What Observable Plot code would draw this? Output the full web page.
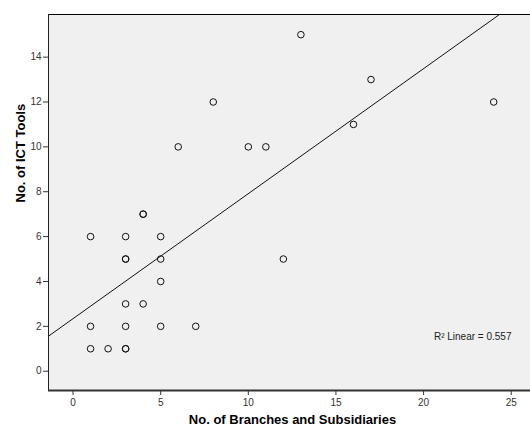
<!DOCTYPE html>
<html>
<head>
<meta charset="utf-8">
<script src="https://cdn.jsdelivr.net/npm/d3@7"></script>
<script src="https://cdn.jsdelivr.net/npm/@observablehq/plot@0.6"></script>
<style>
  html, body { margin: 0; padding: 0; background: white; }
</style>
</head>
<body>
<div id="chart"></div>
<script>
// Data
const branches = [1, 3, 5, 3, 3, 5, 5, 3, 4, 1, 3, 5, 7, 1, 2, 3, 3, 4, 4, 6, 8, 10, 11, 13, 17, 16, 24, 12];
const ictTools = [6, 6, 6, 5, 5, 5, 4, 3, 3, 2, 2, 2, 2, 1, 1, 1, 1, 7, 7, 10, 12, 10, 10, 15, 13, 11, 12, 5];
const xTicks = [0, 5, 10, 15, 20, 25];
const yTicks = [0, 2, 4, 6, 8, 10, 12, 14];
const xLabel = "No. of Branches and Subsidiaries";
const yLabel = "No. of ICT Tools";
const r2Label = "R\u00B2 Linear = 0.557";
const xDomain = [-1.4, 26.1];
const yDomain = [-0.86, 15.9];

const data = branches.map((b, i) => ({x: b, y: ictTools[i]}));

// least squares fit computed from the data
const mx = d3.mean(data, d => d.x), my = d3.mean(data, d => d.y);
const sxy = d3.sum(data, d => (d.x - mx) * (d.y - my));
const sxx = d3.sum(data, d => (d.x - mx) ** 2);
const slope = sxy / sxx, intercept = my - slope * mx;
const fit = xDomain.map(x => ({x, y: intercept + slope * x}));

const chart = Plot.plot({
  width: 530,
  height: 430,
  marginLeft: 48,
  marginRight: 0,
  marginTop: 14,
  marginBottom: 40,
  style: {fontFamily: "'Liberation Sans', Arial, sans-serif", fontSize: "10px", background: "white", color: "#222"},
  x: {domain: xDomain},
  y: {domain: yDomain},
  marks: [
    Plot.frame({fill: "#f0f0f0", stroke: "none"}),
    Plot.line(fit, {x: "x", y: "y", stroke: "#111", strokeWidth: 1, clip: true}),
    Plot.dot(data, {x: "x", y: "y", r: 3.3, stroke: "#111", strokeWidth: 1, fill: "none"}),
    Plot.ruleY([yDomain[1]], {stroke: "#000", strokeWidth: 1}),
    Plot.ruleX([xDomain[0]], {stroke: "#222", strokeWidth: 1}),
    Plot.ruleY([yDomain[0]], {stroke: "#333", strokeWidth: 2}),
    Plot.axisX({ticks: xTicks, tickSize: 5, tickPadding: 3, fontSize: 10, label: null, stroke: "#333", fill: "#333"}),
    Plot.axisY({ticks: yTicks, tickSize: 5, tickPadding: 2, fontSize: 10, label: null, stroke: "#333", fill: "#333"}),
    Plot.text([xLabel], {frameAnchor: "bottom", dx: 3, dy: 33, fontWeight: "bold", fontSize: 13, fill: "#000"}),
    Plot.text([yLabel], {frameAnchor: "left", dx: -28, rotate: -90, fontWeight: "bold", fontSize: 13, fill: "#000"}),
    Plot.text([r2Label], {frameAnchor: "bottom-right", textAnchor: "end", dx: -19, dy: -51, fontSize: 10, fill: "#222"})
  ]
});
document.getElementById("chart").append(chart);
</script>
</body>
</html>
